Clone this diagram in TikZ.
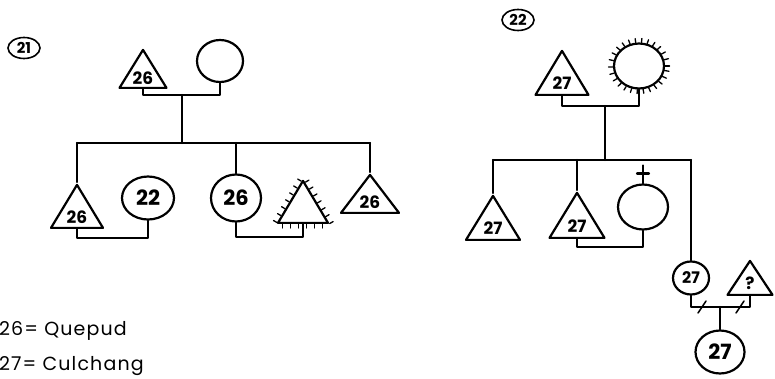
\documentclass[tikz,border=0pt]{standalone}
\usepackage{fontspec}
\setmainfont{Poppins}
\newfontfamily\legendfont[LetterSpace=6]{Poppins}
\usetikzlibrary{shapes.geometric,calc,decorations.markings}
\begin{document}
\begin{tikzpicture}[x=1pt,y=1pt,
 line width=2.2pt, line join=round, line cap=round,
 tri/.style 2 args={draw, isosceles triangle, shape border rotate=90, isosceles triangle stretches, minimum width=#1, minimum height=#2, inner sep=0pt, anchor=apex, font=\fontsize{17}{17}\selectfont\bfseries},
 circ/.style 2 args={draw, ellipse, minimum width=#1, minimum height=#2, inner sep=0pt, font=\fontsize{21}{21}\selectfont\bfseries},
 lbl/.style={draw, ellipse, line width=1.6pt, minimum width=32, minimum height=21, inner sep=0pt, font=\fontsize{15}{15}\selectfont\bfseries},
 tick/.style={line width=1.3pt},
 hatch/.style={postaction={decorate, decoration={markings, mark=between positions 0.03 and 0.99 step 8pt with {\draw[tick] (0,0) -- (0,4pt);}}}},
 legend/.style={anchor=base west, inner sep=0pt, font=\legendfont\fontsize{19}{19}\selectfont}
]
\useasboundingbox (0,0) rectangle (775,378);
\clip (0,0) rectangle (775,378);

% ---------- left pedigree ----------
\node[lbl] (L21) at (24,330) {21};
\node[tri={47}{38}] (T1) at (143,331) {26};
\node[circ={46}{42}] (C1) at (220,317) {};
\coordinate (m1) at (182,283);
\coordinate (s1) at (182,235);
\draw (T1.lower side) |- (m1) -| (C1.south);
\draw (m1) -- (s1);
\coordinate (sL) at (77,235);
\coordinate (sR) at (370,235);
\draw (sL) -- (sR);

\node[tri={52}{43}] (T2) at (77,196) {26};
\node[circ={52}{43}] (C2) at (148,180) {22};
\draw (sL) -- (T2.apex);
\coordinate (m2) at (110,140);
\draw (T2.lower side) |- (m2) -| (C2.south);

\node[circ={50}{47}] (C3) at (236,180) {26};
\draw (C3.north |- sL) -- (C3.north);
\node[tri={50}{42}] (T3) at (303,200) {};
\path[hatch] (T3.apex) -- (T3.right corner) -- (T3.left corner) -- cycle;
\coordinate (m3) at (270,141);
\draw (C3.south) |- (m3) -| (T3.lower side);

\node[tri={58}{38}] (T4) at (370,206) {26};
\draw (sR) -- (T4.apex);

% ---------- right pedigree ----------
\node[lbl] (L22) at (518,358) {22};
\node[tri={53}{44}] (T5) at (562,330) {27};
\node[circ={50}{45}] (C4) at (639,312) {};
\foreach \a in {0,14,...,350} \draw[tick] (C4.\a) -- ($(C4.center)!1.17!(C4.\a)$);
\coordinate (m4) at (605,272);
\coordinate (s4) at (605,218);
\draw (T5.lower side) |- (m4) -| (C4.south);
\draw (m4) -- (s4);
\coordinate (sL2) at (493,218);
\coordinate (sR2) at (691,218);
\draw (sL2) -- (sR2);

\node[tri={54}{44}] (T6) at (493,185) {27};
\draw (sL2) -- (T6.apex);
\node[tri={55}{45}] (T7) at (577,188) {27};
\draw (T7.apex |- sL2) -- (T7.apex);
\node[circ={50}{45}] (C5) at (643,171) {};
\draw (C5.north) -- ++(0,18);
\draw ($(C5.north)+(-6,10)$) -- ++(12,0);
\coordinate (m5) at (610,131);
\draw (T7.lower side) |- (m5) -| (C5.south);

\node[circ={36}{33}, font=\fontsize{16}{16}\selectfont\bfseries] (C6) at (691,100) {27};
\draw (sR2) -- (C6.north);
\node[tri={45}{34}] (T8) at (750,120) {?};
\coordinate (m6) at (720,71);
\draw (C6.south) |- (m6) -| (T8.lower side);
\coordinate (d1) at (702,71);
\coordinate (d2) at (740,71);
\draw[line width=1.5pt] ($(d1)+(-4,-6)$) -- ($(d1)+(4,6)$);
\draw[line width=1.5pt] ($(d2)+(-4,-6)$) -- ($(d2)+(4,6)$);
\node[circ={49}{43}] (C7) at (720,26) {27};
\draw (m6) -- (C7.north);

% ---------- legend ----------
\node[legend] (k1) at (-2,43) {26= Quepud};
\node[legend] (k2) at (-2,8) {27= Culchang};
\end{tikzpicture}
\end{document}
